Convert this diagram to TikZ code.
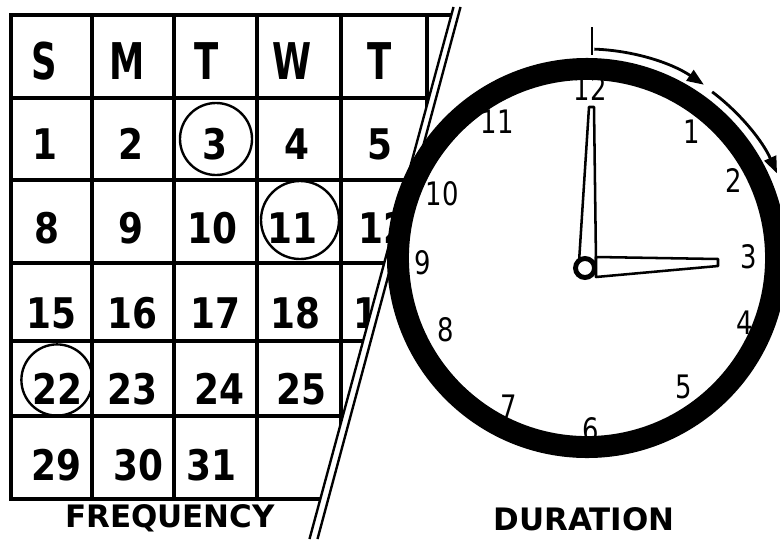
\documentclass[tikz,border=0pt]{standalone}
\usepackage{fontspec}
\setmainfont{DejaVu Sans}
\newfontfamily\calhead{DejaVu Sans}[FakeStretch=0.7]
\newfontfamily\calnum{DejaVu Sans}[FakeStretch=0.85]
\newfontfamily\dialfont{DejaVu Sans}[FakeStretch=0.8]
\usetikzlibrary{arrows.meta}

\begin{document}
\begin{tikzpicture}[
    x=0.025cm, y=-0.025cm,
    gridline/.style={line width=2.4pt, line cap=rect},
    dayname/.style={font=\calhead\bfseries\fontsize{36}{36}\selectfont, inner sep=0pt},
    daynum/.style={font=\calnum\bfseries\fontsize{30}{30}\selectfont, inner sep=0pt},
    ringed/.style={circle, draw, line width=1.7pt, inner sep=0pt},
    hour/.style={font=\dialfont\fontsize{23}{23}\selectfont, inner sep=0pt},
    caption/.style={font=\bfseries\fontsize{22}{22}\selectfont, inner sep=0pt},
    hand/.style={draw, fill=white, line width=1.8pt, line join=round},
    sweep/.style={line width=2pt},
    cut/.style={line width=1.7pt}
]

\useasboundingbox (0,0) rectangle (780,539);

% Calendar (cut off by the slash)
\begin{scope}
\clip (0,0) -- (455.4,0) -- (309.5,539) -- (0,539) -- cycle;

\foreach \y in {15,98,180,263,341,416,499}
    \draw[gridline] (11,\y) -- (480,\y);
\foreach \x in {11,92,174,257,341,427}
    \draw[gridline] (\x,15) -- (\x,499);

% Day names
\node[dayname] (sun) at (44,61) {S};
\node[dayname] (mon) at (127,61) {M};
\node[dayname] (tue) at (207,61) {T};
\node[dayname] (wed) at (292,61) {W};
\node[dayname] (thu) at (380,61) {T};

% Days
\node[daynum] (d1) at (45,144) {1};
\node[daynum] (d2) at (131,144) {2};
\node[daynum] (d3) at (215,144) {3};
\node[daynum] (d4) at (297,144) {4};
\node[daynum] (d5) at (380,144) {5};

\node[daynum] (d8) at (47,228) {8};
\node[daynum] (d9) at (131,228) {9};
\node[daynum] (d10) at (212,228) {10};
\node[daynum] (d11) at (292,228) {11};
\node[daynum] (d12) at (383,228) {12};

\node[daynum] (d15) at (51,313) {15};
\node[daynum] (d16) at (132,313) {16};
\node[daynum] (d17) at (215,313) {17};
\node[daynum] (d18) at (295,313) {18};
\node[daynum] (d19) at (378,313) {19};

\node[daynum] (d22) at (57,389) {22};
\node[daynum] (d23) at (132,389) {23};
\node[daynum] (d24) at (219,389) {24};
\node[daynum] (d25) at (301,389) {25};

\node[daynum] (d29) at (56,465) {29};
\node[daynum] (d30) at (138,465) {30};
\node[daynum] (d31) at (211,465) {31};

% Circled days
\node[ringed, minimum size=1.8cm] (c3) at (216,139) {};
\node[ringed, minimum size=1.95cm] (c11) at (300,220) {};
\node[ringed, minimum size=1.78cm] (c22) at (57,380) {};
\end{scope}

% Slash
\coordinate (cutA) at (453.5,7);
\coordinate (cutB) at (309.5,539);
\coordinate (cutC) at (460.5,7);
\coordinate (cutD) at (317.5,539);
\draw[cut] (cutA) -- (cutB);
\draw[cut] (cutC) -- (cutD);

% Clock
\node[circle, draw, line width=15.6pt, minimum size=9.45cm, inner sep=0pt] (face) at (587,258) {};

\node[hour] (h12) at (590,88) {12};
\node[hour] (h1) at (692,132) {1};
\node[hour] (h2) at (734,180) {2};
\node[hour] (h3) at (749,257) {3};
\node[hour] (h4) at (745,323) {4};
\node[hour] (h5) at (684,387) {5};
\node[hour] (h6) at (591,430) {6};
\node[hour] (h7) at (509,407) {7};
\node[hour] (h8) at (446,330) {8};
\node[hour] (h9) at (423,263) {9};
\node[hour] (h10) at (442,194) {10};
\node[hour] (h11) at (497,122) {11};

% Hands
\draw[hand] (579,262) -- (589,107) -- (594,107) -- (596,262) -- cycle;
\draw[hand] (596,257) -- (718,259) -- (718,266) -- (596,277) -- cycle;
\node[circle, draw, fill=white, line width=3.5pt, minimum size=0.475cm, inner sep=0pt] (pivot) at (585,268) {};

% Elapsed time
\draw[sweep, line cap=rect] (592,28) -- (592,54);
\draw[sweep, -{Triangle[length=12pt,width=9pt]}] (face.center) ++(-88:209)
    arc[start angle=-88, end angle=-56, radius=209];
\draw[sweep, -{Triangle[length=12pt,width=9pt]}] (face.center) ++(-53:208)
    arc[start angle=-53, end angle=-24, radius=208];

% Captions
\node[caption] (freq) at (170,518) {FREQUENCY};
\node[caption] (dur) at (584,519) {DURATION};

\end{tikzpicture}
\end{document}
